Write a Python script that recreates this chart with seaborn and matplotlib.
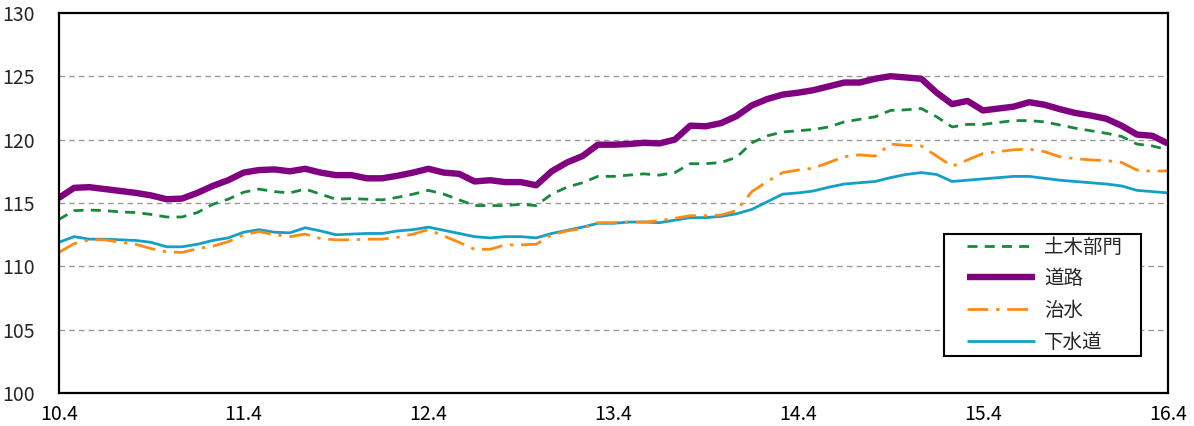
import matplotlib
matplotlib.use("Agg")
import matplotlib.pyplot as plt
from matplotlib.patches import Rectangle
import seaborn as sns
import pandas as pd
import numpy as np

# ---- data ----
year_labels = ["10.4", "11.4", "12.4", "13.4", "14.4", "15.4", "16.4"]
series_names = ["土木部門", "道路", "治水", "下水道"]

doboku = [113.7, 114.4, 114.45, 114.4, 114.3, 114.25, 114.1, 113.9, 113.9, 114.25,
          114.9, 115.3, 115.85, 116.1, 115.9, 115.8, 116.1, 115.7, 115.3, 115.35,
          115.3, 115.25, 115.45, 115.7, 116.0, 115.7, 115.25, 114.8, 114.8, 114.8,
          114.9, 114.8, 115.7, 116.25, 116.6, 117.1, 117.1, 117.2, 117.3, 117.2,
          117.4, 118.1, 118.1, 118.2, 118.6, 119.75, 120.3, 120.6, 120.7, 120.8,
          121.0, 121.4, 121.6, 121.8, 122.3, 122.35, 122.45, 121.8, 121.0, 121.2,
          121.2, 121.35, 121.5, 121.5, 121.4, 121.15, 120.9, 120.7, 120.5, 120.25,
          119.65, 119.5, 119.2]

douro = [115.4, 116.2, 116.25, 116.1, 115.95, 115.8, 115.6, 115.3, 115.35, 115.8,
         116.35, 116.8, 117.4, 117.6, 117.65, 117.5, 117.7, 117.4, 117.2, 117.2,
         116.95, 116.95, 117.15, 117.4, 117.7, 117.4, 117.3, 116.7, 116.8, 116.65,
         116.65, 116.4, 117.5, 118.2, 118.7, 119.6, 119.6, 119.65, 119.75, 119.7,
         120.0, 121.1, 121.05, 121.3, 121.85, 122.7, 123.2, 123.55, 123.7, 123.9,
         124.2, 124.5, 124.5, 124.8, 125.0, 124.9, 124.8, 123.7, 122.8, 123.05,
         122.3, 122.45, 122.6, 122.95, 122.75, 122.4, 122.1, 121.9, 121.65, 121.1,
         120.4, 120.3, 119.7]

chisui = [111.1, 111.8, 112.1, 112.1, 111.9, 111.75, 111.4, 111.15, 111.1, 111.4,
          111.6, 111.95, 112.5, 112.75, 112.5, 112.35, 112.55, 112.2, 112.1, 112.1,
          112.15, 112.15, 112.3, 112.55, 112.9, 112.4, 111.9, 111.35, 111.35, 111.7,
          111.7, 111.75, 112.5, 112.8, 113.0, 113.45, 113.45, 113.5, 113.5, 113.6,
          113.8, 114.0, 114.0, 114.05, 114.4, 115.9, 116.7, 117.4, 117.6, 117.75,
          118.2, 118.65, 118.8, 118.7, 119.65, 119.55, 119.5, 118.7, 117.9, 118.4,
          118.9, 119.05, 119.2, 119.25, 119.05, 118.65, 118.5, 118.4, 118.35, 118.2,
          117.6, 117.5, 117.55]

gesuidou = [111.9, 112.35, 112.15, 112.15, 112.1, 112.05, 111.9, 111.55, 111.55, 111.75,
            112.05, 112.25, 112.7, 112.9, 112.7, 112.65, 113.05, 112.8, 112.5, 112.55,
            112.6, 112.6, 112.8, 112.9, 113.1, 112.85, 112.6, 112.35, 112.25, 112.35,
            112.35, 112.25, 112.6, 112.85, 113.1, 113.4, 113.4, 113.5, 113.5, 113.45,
            113.65, 113.85, 113.85, 113.95, 114.15, 114.5, 115.1, 115.7, 115.8, 115.95,
            116.25, 116.5, 116.6, 116.7, 117.0, 117.25, 117.4, 117.25, 116.7, 116.8,
            116.9, 117.0, 117.1, 117.1, 116.95, 116.8, 116.7, 116.6, 116.5, 116.35,
            116.0, 115.9, 115.8]

months = list(range(len(douro)))
df = pd.DataFrame({"month": months, "土木部門": doboku, "道路": douro,
                   "治水": chisui, "下水道": gesuidou})

# ---- style ----
sns.set_style("white")
plt.rcParams["font.family"] = ["Noto Sans CJK JP", "DejaVu Sans"]

fig = plt.figure(figsize=(11.94, 4.26), dpi=100)
ax = fig.add_axes([0.0492, 0.0768, 0.978 - 0.0492, 0.970 - 0.0768])

styles = {
    "土木部門": dict(color="#168A3A", lw=2.0, dashes=(3.6, 2.6)),
    "道路": dict(color="#800080", lw=4.6, dashes=None),
    "治水": dict(color="#FF8A14", lw=2.0, dashes=(7.5, 2.8, 1.2, 2.8)),
    "下水道": dict(color="#12A0C8", lw=2.0, dashes=None),
}

order = ["下水道", "治水", "土木部門", "道路"]
handles = {}
for name in order:
    st = styles[name]
    sns.lineplot(data=df, x="month", y=name, ax=ax, color=st["color"],
                 linewidth=st["lw"], label=name, legend=False)
    ln = ax.get_lines()[-1]
    if st["dashes"] is not None:
        ln.set_dashes(st["dashes"])
    ln.set_solid_capstyle("butt")
    handles[name] = ln

ax.set_xlim(0, 72)
ax.set_ylim(100, 130)
ax.set_xticks(range(0, 73, 12))
ax.set_xticklabels(year_labels)
ax.set_xticks(range(0, 73), minor=True)
ax.set_yticks(range(100, 131, 5))
ax.set_xlabel("")
ax.set_ylabel("")

for y in range(105, 130, 5):
    ax.axhline(y, color="#999999", lw=1.0, ls=(0, (4, 3)), zorder=0)

for sp in ax.spines.values():
    sp.set_visible(True)
    sp.set_color("black")
    sp.set_linewidth(1.6)

ax.tick_params(axis="x", which="major", direction="inout", length=10, width=1.5,
               labelsize=14, pad=3, colors="black")
ax.tick_params(axis="x", which="minor", direction="in", length=5, width=1.2,
               colors="black")
ax.tick_params(axis="y", which="both", length=0, labelsize=14, pad=17)

# legend box (drawn as a frame) and entries
ax.add_patch(Rectangle((0.798, 0.098), 0.178, 0.3206, transform=ax.transAxes,
                       facecolor="white", edgecolor="black", lw=1.5, zorder=5))
leg = ax.legend([handles[n] for n in series_names], series_names,
                loc="center left", bbox_to_anchor=(0.819, 0.2596),
                borderaxespad=0, borderpad=0, fontsize=14, handlelength=3.5,
                handletextpad=0.45, labelspacing=0.55, frameon=False)
leg.set_zorder(6)

fig.savefig("out.png", dpi=100)
